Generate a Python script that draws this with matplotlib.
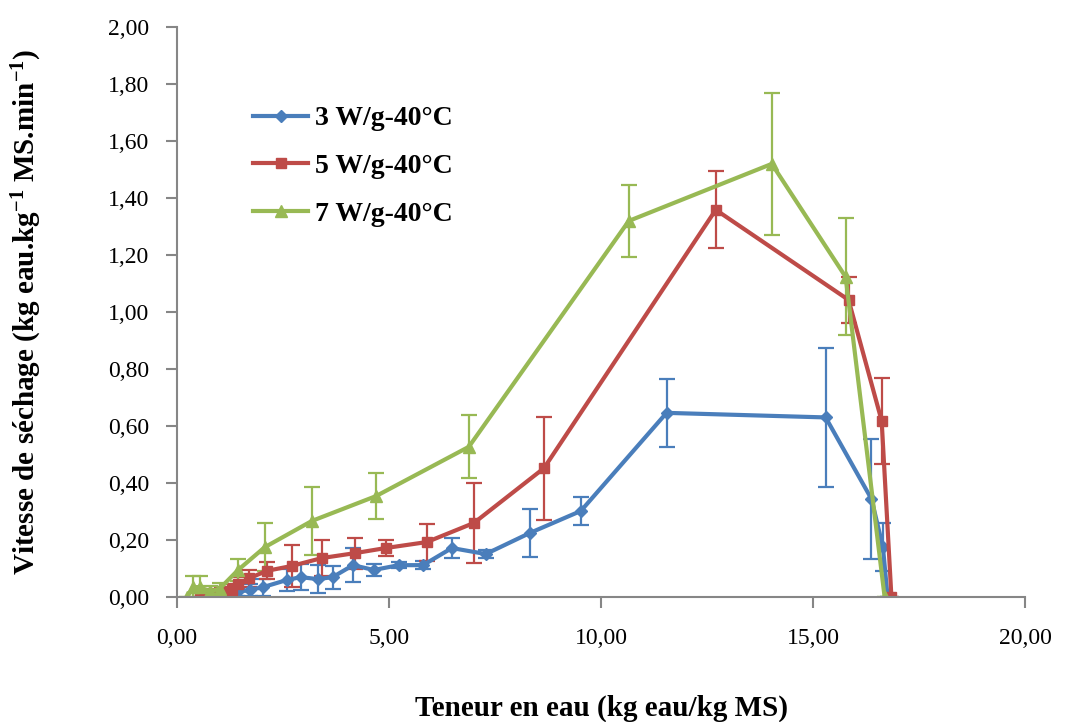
import matplotlib
matplotlib.use("Agg")
import matplotlib.pyplot as plt
from matplotlib.lines import Line2D
from matplotlib.ticker import FuncFormatter, MultipleLocator

# 3 W/g - 40°C
x_3w = [0.75, 1.0, 1.2, 1.41, 1.72, 2.03, 2.59, 2.92, 3.32, 3.67, 4.15, 4.64, 5.23, 5.8,
        6.48, 7.28, 8.32, 9.52, 11.54, 15.29, 16.37, 16.64, 16.75]
y_3w = [0.0, 0.008, 0.012, 0.018, 0.025, 0.035, 0.06, 0.07, 0.063, 0.07, 0.112, 0.095, 0.112, 0.112,
        0.172, 0.151, 0.225, 0.302, 0.646, 0.63, 0.344, 0.175, 0.0]
e_3w = [0.0, 0.01, 0.01, 0.015, 0.02, 0.03, 0.04, 0.045, 0.05, 0.04, 0.06, 0.02, 0.01, 0.015,
        0.035, 0.015, 0.085, 0.05, 0.12, 0.245, 0.21, 0.085, 0.0]

# 5 W/g - 40°C
x_5w = [0.55, 0.8, 1.05, 1.3, 1.45, 1.7, 2.12, 2.7, 3.42, 4.19, 4.92, 5.89, 7.0, 8.65,
        12.7, 15.83, 16.61, 16.84]
y_5w = [0.0, 0.01, 0.015, 0.025, 0.045, 0.066, 0.092, 0.109, 0.137, 0.154, 0.172, 0.193, 0.26, 0.452,
        1.358, 1.042, 0.618, 0.0]
e_5w = [0.0, 0.02, 0.02, 0.02, 0.025, 0.03, 0.03, 0.073, 0.063, 0.054, 0.028, 0.065, 0.14, 0.18,
        0.135, 0.08, 0.15, 0.0]

# 7 W/g - 40°C
x_7w = [0.24, 0.38, 0.54, 0.78, 1.01, 1.44, 2.07, 3.18, 4.69, 6.88, 10.65, 14.02, 15.76, 16.68]
y_7w = [0.0, 0.035, 0.035, 0.02, 0.03, 0.095, 0.175, 0.267, 0.354, 0.527, 1.319, 1.519, 1.123, 0.0]
e_7w = [0.0, 0.04, 0.04, 0.02, 0.02, 0.04, 0.085, 0.12, 0.08, 0.11, 0.125, 0.25, 0.205, 0.0]

series = [
    ("3 W/g-40°C", x_3w, y_3w, e_3w, "#4A7EBB", "D", 6.5),
    ("5 W/g-40°C", x_5w, y_5w, e_5w, "#BE4B48", "s", 6.5),
    ("7 W/g-40°C", x_7w, y_7w, e_7w, "#98B954", "^", 8.5),
]

plt.rcParams["font.family"] = ["Liberation Serif", "DejaVu Serif"]
plt.rcParams["mathtext.default"] = "regular"

fig = plt.figure(figsize=(10.66, 7.22), dpi=100)
ax = fig.add_axes([0.166, 0.173, 0.796, 0.79])

handles = []
for label, x, y, e, color, marker, ms in series:
    ax.errorbar(x, y, yerr=e, color=color, marker=marker, markersize=ms, linewidth=3,
                elinewidth=1.6, capsize=6, capthick=1.6)
    handles.append(Line2D([], [], color=color, marker=marker, markersize=ms, linewidth=3,
                          label=label))

ax.set_xlim(0, 20)
ax.set_ylim(0, 2.0)
ax.xaxis.set_major_locator(MultipleLocator(5))
ax.yaxis.set_major_locator(MultipleLocator(0.2))
comma = FuncFormatter(lambda v, pos: f"{v:.2f}".replace(".", ","))
ax.xaxis.set_major_formatter(comma)
ax.yaxis.set_major_formatter(comma)

for side in ("top", "right"):
    ax.spines[side].set_visible(False)
for side in ("left", "bottom"):
    ax.spines[side].set_color("#868686")
    ax.spines[side].set_linewidth(1.5)
ax.tick_params(axis="both", direction="out", length=8, width=1.5, color="#868686",
               labelsize=17)
ax.tick_params(axis="y", pad=12)
ax.tick_params(axis="x", pad=14)

ax.set_xlabel("Teneur en eau (kg eau/kg MS)", fontsize=21, fontweight="bold", labelpad=33)
ax.set_ylabel("Vitesse de séchage (kg eau.kg$^{-1}$ MS.min$^{-1}$)", fontsize=21,
              fontweight="bold", labelpad=46)

ax.legend(handles=handles, loc="upper left", bbox_to_anchor=(0.06, 0.905), frameon=False,
          prop={"size": 20, "weight": "bold"}, handlelength=2.0, handletextpad=0.25,
          labelspacing=0.8)

fig.savefig("out.png", dpi=100)
